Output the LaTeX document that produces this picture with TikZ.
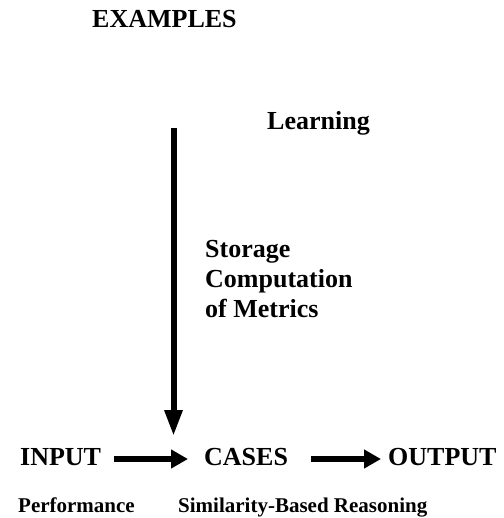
\documentclass[tikz,border=0pt]{standalone}
\usepackage{fontspec}
\setmainfont{Liberation Serif}
\usetikzlibrary{arrows.meta}
\begin{document}
\begin{tikzpicture}[x=1pt,y=-1pt,
  big/.style={inner sep=0pt, font=\fontsize{26}{30}\selectfont\bfseries},
  small/.style={inner sep=0pt, font=\fontsize{21}{25}\selectfont\bfseries},
  harrow/.style={line width=6pt, -{Triangle[length=17pt,width=18pt]}},
  varrow/.style={line width=6pt, -{Triangle[length=26pt,width=17pt]}}]
\useasboundingbox (0,0) rectangle (503,518);
\node[big, anchor=base west] (examples) at (92,28) {EXAMPLES};
\node[big, anchor=base west] (learning) at (267,130) {Learning};
\node[big, anchor=north west, align=left] (storage) at (205,240) {Storage\\Computation\\of Metrics};
\node[big, anchor=base west] (input) at (20,465) {INPUT};
\node[big, anchor=base west] (cases) at (204,465) {CASES};
\node[big, anchor=base west] (output) at (388,465) {OUTPUT};
\node[small, anchor=base west] (perf) at (18,512) {Performance};
\node[small, anchor=base west] (sim) at (178,512) {Similarity-Based Reasoning};
\coordinate (vtop) at (173.5,128);
\coordinate (vend) at (173.5,436);
\draw[varrow] (vtop) -- (vend);
\coordinate (a1s) at (114,459);
\coordinate (a1e) at (188,459);
\coordinate (a2s) at (311,459);
\coordinate (a2e) at (381,459);
\draw[harrow] (a1s) -- (a1e);
\draw[harrow] (a2s) -- (a2e);
\end{tikzpicture}
\end{document}
